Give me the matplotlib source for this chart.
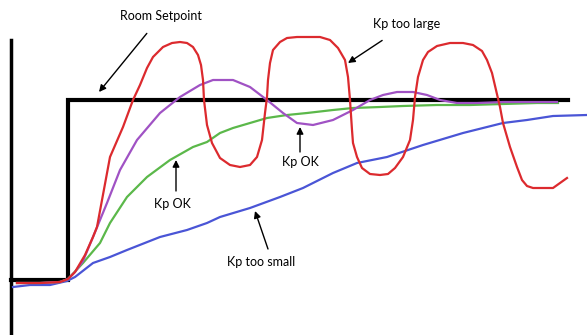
import matplotlib.pyplot as plt

# Curves (x, y in image pixels, y grows downward)
red_x = [17, 40, 60, 68, 75, 85, 93, 97, 110, 123, 133, 140, 147, 153, 163, 172, 180, 187, 193, 198,
         201, 203, 204, 207, 212, 220, 230, 240, 250, 257, 262, 265, 267, 268, 270, 273, 280, 287,
         297, 320, 330, 338, 345, 348, 350, 352, 353, 357, 362, 370, 380, 388, 395, 403, 410, 413,
         415, 418, 423, 428, 437, 450, 463, 473, 482, 487, 492, 496, 500, 503, 510, 517, 522, 527,
         533, 553, 567]
red_y = [283, 283, 282, 279, 272, 255, 237, 227, 157, 127, 100, 85, 68, 57, 47, 43, 42, 43, 47, 55,
         65, 80, 100, 125, 143, 158, 165, 167, 165, 157, 140, 113, 97, 80, 63, 50, 42, 38,
         37, 37, 40, 48, 60, 77, 100, 130, 143, 157, 168, 174, 175, 174, 168, 157, 140, 120,
         97, 77, 60, 52, 46, 43, 43, 45, 51, 60, 73, 90, 107, 123, 147, 167, 180, 186,
         188, 188, 178]

purple_x = [17, 40, 60, 68, 75, 83, 93, 107, 120, 137, 160, 180, 200, 213, 233, 250, 267, 283, 297,
            313, 333, 353, 370, 383, 397, 413, 427, 440, 457, 477, 503, 557]
purple_y = [283, 283, 282, 279, 272, 261, 237, 203, 170, 140, 113, 97, 85, 80, 80, 87, 100, 113, 123,
            125, 120, 110, 100, 95, 92, 92, 95, 100, 103, 103, 102, 102]

green_x = [17, 40, 60, 68, 83, 100, 110, 127, 147, 170, 193, 207, 220, 233, 250, 267, 287, 307, 333,
           353, 380, 403, 437, 470, 503, 537, 558]
green_y = [283, 283, 282, 279, 263, 243, 223, 197, 177, 160, 147, 142, 133, 128, 123, 118, 115, 113,
           110, 108, 107, 106, 105, 105, 104, 103, 103]

blue_x = [13, 30, 50, 67, 75, 93, 110, 127, 160, 187, 207, 220, 250, 280, 303, 333, 357, 387, 423,
          463, 503, 527, 553, 587]
blue_y = [287, 285, 285, 281, 277, 263, 257, 250, 237, 230, 223, 217, 208, 197, 188, 173, 163, 157,
          145, 133, 123, 120, 116, 115]

# Setpoint step
setpoint_x = [11, 68, 68, 568]
setpoint_y = [280, 280, 100, 100]

fig = plt.figure(figsize=(5.87, 3.35), dpi=100)
ax = fig.add_axes([0, 0, 1, 1])
ax.set_xlim(0, 587)
ax.set_ylim(335, 0)
ax.axis('off')

# vertical axis line
ax.plot([11, 11], [40, 340], color='black', lw=2.5)
ax.plot(setpoint_x, setpoint_y, color='black', lw=3, solid_joinstyle='miter')

ax.plot(blue_x, blue_y, color='#4a55d6', lw=1.6)
ax.plot(green_x, green_y, color='#5bb84a', lw=1.6)
ax.plot(purple_x, purple_y, color='#a052c4', lw=1.6)
ax.plot(red_x, red_y, color='#dc2a2e', lw=1.6)

font = 'Lato'
fs = 9
arrow = dict(arrowstyle='-|>', color='black', lw=1, mutation_scale=10)

# Labels with arrows
ax.annotate('Room Setpoint', xy=(99, 92), xytext=(161, 16), fontsize=fs, family=font,
            ha='center', va='center', arrowprops=dict(arrow, shrinkA=8, shrinkB=0))
ax.annotate('Kp too large', xy=(348, 63), xytext=(407, 24), fontsize=fs, family=font,
            ha='center', va='center', arrowprops=dict(arrow, shrinkA=10, shrinkB=0))
ax.text(172, 204, 'Kp OK', fontsize=fs, family=font, ha='center', va='center')
ax.annotate('', xy=(176, 160), xytext=(176, 191), arrowprops=dict(arrow, shrinkA=0, shrinkB=0))
ax.text(300, 162, 'Kp OK', fontsize=fs, family=font, ha='center', va='center')
ax.annotate('', xy=(300, 127), xytext=(300, 152), arrowprops=dict(arrow, shrinkA=0, shrinkB=0))
ax.text(261, 262, 'Kp too small', fontsize=fs, family=font, ha='center', va='center')
ax.annotate('', xy=(255, 211), xytext=(268, 249), arrowprops=dict(arrow, shrinkA=0, shrinkB=0))

fig.savefig('out.png', dpi=100)
